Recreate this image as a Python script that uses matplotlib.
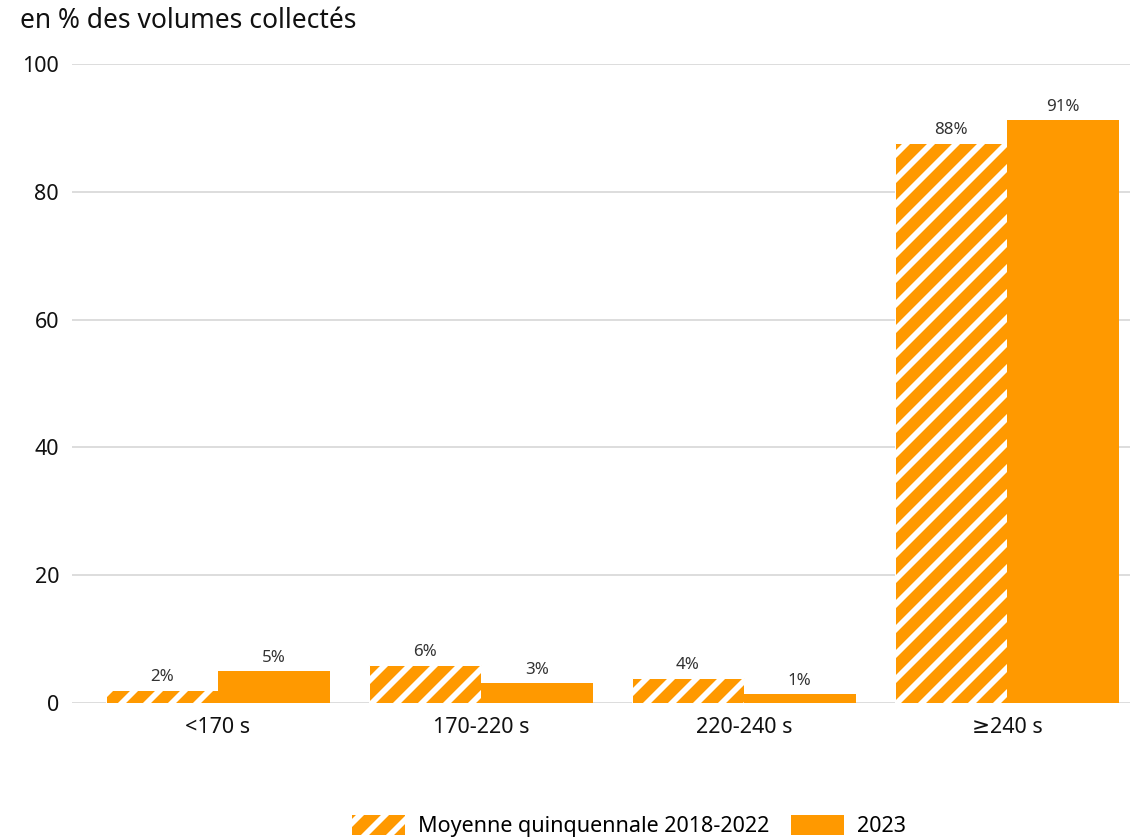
import numpy as np
import matplotlib
matplotlib.use("Agg")
import matplotlib.pyplot as plt
from matplotlib.patches import Patch

# dpi chosen so the hatch stripes come out with the right spacing
DPI = 75
S = 100 / DPI  # sizes below are tuned for 100 dpi, scale them


def px(p):
    return p * 72 / DPI


plt.rcParams["font.family"] = ["Noto Sans", "DejaVu Sans"]
plt.rcParams["hatch.color"] = "white"
plt.rcParams["hatch.linewidth"] = 5.5

categories = ["<170 s", "170-220 s", "220-240 s", "≥240 s"]
moyenne = [2.0, 5.9, 3.9, 87.7]
annee_2023 = [5.0, 3.1, 1.4, 91.3]
labels_moyenne = ["2%", "6%", "4%", "88%"]
labels_2023 = ["5%", "3%", "1%", "91%"]

orange = "#FF9900"

fig = plt.figure(figsize=(1130 / DPI, 839 / DPI), dpi=DPI)
ax = fig.add_axes([72 / 1130, 1 - 703 / 839, 1058 / 1130, 639 / 839])

x = np.arange(len(categories))
w = 0.425

b1 = ax.bar(x - w / 2, moyenne, w, color=orange, edgecolor="white", linewidth=px(1), hatch="/")
b2 = ax.bar(x + w / 2, annee_2023, w, color=orange, linewidth=0)

for bars, labs in [(b1, labels_moyenne), (b2, labels_2023)]:
    for rect, lab in zip(bars, labs):
        ax.annotate(lab, (rect.get_x() + rect.get_width() / 2, rect.get_height()),
                    xytext=(0, px(5)), textcoords="offset points",
                    ha="center", va="bottom", fontsize=12.2 * S, color="#333333")

ax.set_xlim(-0.555, 3.468)
ax.set_ylim(0, 100)
ax.set_yticks([0, 20, 40, 60, 80, 100])
ax.set_xticks(x)
ax.set_xticklabels(categories)
ax.tick_params(axis="both", length=0, labelsize=15.5 * S, colors="#111111")
ax.tick_params(axis="x", pad=px(14))
ax.tick_params(axis="y", pad=px(13))
ax.grid(axis="y", color="#dddddd", linewidth=px(2))
ax.set_axisbelow(True)
for s in ax.spines.values():
    s.set_visible(False)

fig.text(20 / 1130, 1 - 21 / 839, "en % des volumes collectés", fontsize=19 * S,
         ha="left", va="center", color="#111111")

handles = [Patch(facecolor=orange, edgecolor="white", linewidth=0, hatch="/"),
           Patch(facecolor=orange, linewidth=0)]
fig.legend(handles, ["Moyenne quinquennale 2018-2022", "2023"], loc="center",
           bbox_to_anchor=(629 / 1130, 1 - 826 / 839), ncol=2, frameon=False,
           fontsize=15.5 * S, handlelength=2.45, handleheight=1.1,
           handletextpad=0.6, columnspacing=1.0)

fig.savefig("out.png", dpi=DPI)
